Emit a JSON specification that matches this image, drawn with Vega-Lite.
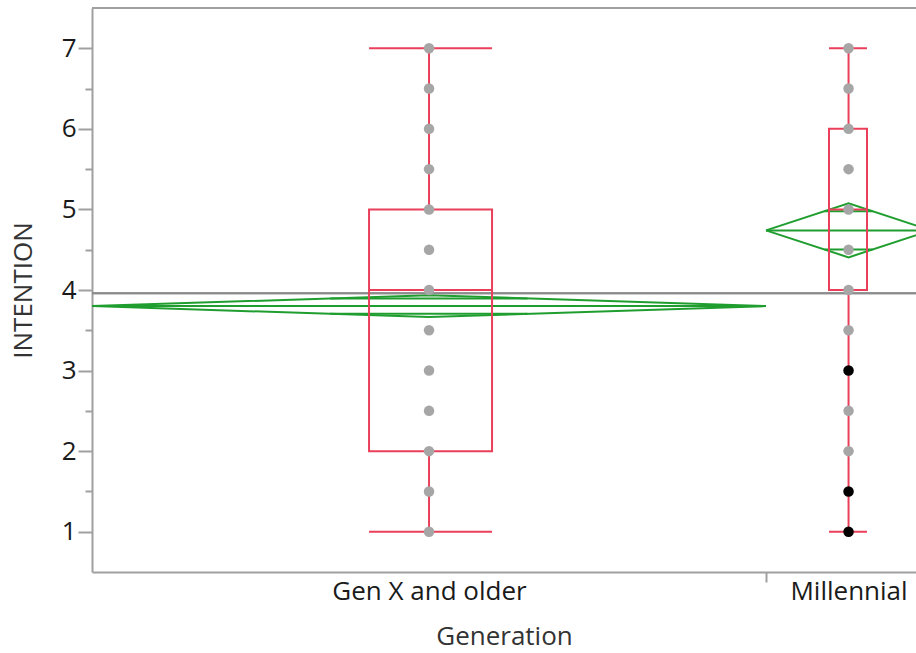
{
  "$schema": "https://vega.github.io/schema/vega-lite/v6.json",
  "width": 824,
  "height": 564,
  "autosize": {"type": "none"},
  "padding": {"left": 92, "top": 8, "right": 0, "bottom": 81},
  "background": "white",
  "config": {"view": {"stroke": null}, "font": "Open Sans"},
  "datasets": {
    "groups": [
      {"Generation": "Gen X and older", "xlo": 0, "xhi": 0.8033, "xc": 0.4017, "boxlo": 0.3302, "boxhi": 0.4768, "min": 1, "q1": 2, "median": 4, "q3": 5, "max": 7, "mean": 3.8, "ovlo": 3.705, "ovhi": 3.895, "ovxlo": 0.284, "ovxhi": 0.519},
      {"Generation": "Millennial", "xlo": 0.8033, "xhi": 1.0, "xc": 0.9017, "boxlo": 0.8784, "boxhi": 0.9237, "min": 1, "q1": 4, "median": 5, "q3": 6, "max": 7, "mean": 4.74, "ovlo": 4.503, "ovhi": 4.977, "ovxlo": 0.873, "ovxhi": 0.9305}
    ],
    "diamond": [
      {"Generation": "Gen X and older", "k": 0, "x": 0, "y": 3.8},
      {"Generation": "Gen X and older", "k": 1, "x": 0.4017, "y": 3.935},
      {"Generation": "Gen X and older", "k": 2, "x": 0.8033, "y": 3.8},
      {"Generation": "Gen X and older", "k": 3, "x": 0.4017, "y": 3.665},
      {"Generation": "Gen X and older", "k": 4, "x": 0, "y": 3.8},
      {"Generation": "Millennial", "k": 0, "x": 0.8033, "y": 4.74},
      {"Generation": "Millennial", "k": 1, "x": 0.9017, "y": 5.075},
      {"Generation": "Millennial", "k": 2, "x": 1.0, "y": 4.74},
      {"Generation": "Millennial", "k": 3, "x": 0.9017, "y": 4.405},
      {"Generation": "Millennial", "k": 4, "x": 0.8033, "y": 4.74}
    ],
    "points": [
      {"Generation": "Gen X and older", "INTENTION": 1, "state": "normal"},
      {"Generation": "Gen X and older", "INTENTION": 1.5, "state": "normal"},
      {"Generation": "Gen X and older", "INTENTION": 2, "state": "normal"},
      {"Generation": "Gen X and older", "INTENTION": 2.5, "state": "normal"},
      {"Generation": "Gen X and older", "INTENTION": 3, "state": "normal"},
      {"Generation": "Gen X and older", "INTENTION": 3.5, "state": "normal"},
      {"Generation": "Gen X and older", "INTENTION": 4, "state": "normal"},
      {"Generation": "Gen X and older", "INTENTION": 4.5, "state": "normal"},
      {"Generation": "Gen X and older", "INTENTION": 5, "state": "normal"},
      {"Generation": "Gen X and older", "INTENTION": 5.5, "state": "normal"},
      {"Generation": "Gen X and older", "INTENTION": 6, "state": "normal"},
      {"Generation": "Gen X and older", "INTENTION": 6.5, "state": "normal"},
      {"Generation": "Gen X and older", "INTENTION": 7, "state": "normal"},
      {"Generation": "Millennial", "INTENTION": 1, "state": "selected"},
      {"Generation": "Millennial", "INTENTION": 1.5, "state": "selected"},
      {"Generation": "Millennial", "INTENTION": 2, "state": "normal"},
      {"Generation": "Millennial", "INTENTION": 2.5, "state": "normal"},
      {"Generation": "Millennial", "INTENTION": 3, "state": "selected"},
      {"Generation": "Millennial", "INTENTION": 3.5, "state": "normal"},
      {"Generation": "Millennial", "INTENTION": 4, "state": "normal"},
      {"Generation": "Millennial", "INTENTION": 4.5, "state": "normal"},
      {"Generation": "Millennial", "INTENTION": 5, "state": "normal"},
      {"Generation": "Millennial", "INTENTION": 5.5, "state": "normal"},
      {"Generation": "Millennial", "INTENTION": 6, "state": "normal"},
      {"Generation": "Millennial", "INTENTION": 6.5, "state": "normal"},
      {"Generation": "Millennial", "INTENTION": 7, "state": "normal"}
    ]
  },
  "layer": [
    {
      "data": {"name": "diamond"},
      "mark": {"type": "line", "color": "#1f9e2f", "strokeWidth": 2, "clip": true},
      "encoding": {
        "x": {
          "field": "x", "type": "quantitative",
          "scale": {"domain": [0, 0.9821], "nice": false, "zero": false},
          "axis": {
            "title": "Generation",
            "values": [0.4017, 0.8033, 0.9017],
            "labelExpr": "datum.value < 0.5 ? 'Gen X and older' : (datum.value > 0.85 ? 'Millennial' : '')",
            "labelFlush": false, "labelOverlap": false, "labelBound": false, "labelLimit": 400,
            "labelFontSize": 26, "labelColor": "#1a1a1a", "labelPadding": -4,
            "grid": false,
            "domainColor": "#a0a0a0", "domainWidth": 2,
            "tickColor": "#a0a0a0", "tickWidth": 2, "tickSize": 10,
            "tickOpacity": {"condition": {"test": "datum.value > 0.7 && datum.value < 0.85", "value": 1}, "value": 0},
            "titleFontSize": 26, "titleFontWeight": "normal", "titleColor": "#333333",
            "titlePadding": 19, "titleX": 412
          }
        },
        "y": {
          "field": "y", "type": "quantitative",
          "scale": {"domain": [0.5, 7.5], "nice": false, "zero": false},
          "axis": {
            "title": "INTENTION",
            "values": [1, 1.5, 2, 2.5, 3, 3.5, 4, 4.5, 5, 5.5, 6, 6.5, 7],
            "labelExpr": "datum.value % 1 === 0 ? format(datum.value, 'd') : ''",
            "labelFontSize": 26, "labelColor": "#1a1a1a", "labelPadding": 2,
            "grid": false,
            "domainColor": "#a0a0a0", "domainWidth": 2,
            "tickColor": "#a0a0a0", "tickWidth": 2,
            "tickSize": {"condition": {"test": "datum.value % 1 === 0", "value": 14}, "value": 7},
            "titleFontSize": 26, "titleFontWeight": "normal", "titleColor": "#333333",
            "titlePadding": 25
          }
        },
        "detail": {"field": "Generation"},
        "order": {"field": "k"}
      }
    },
    {
      "data": {"name": "groups"},
      "mark": {"type": "rule", "color": "#a0a0a0", "strokeWidth": 2},
      "encoding": {
        "y": {"datum": 7.5, "type": "quantitative"}
      }
    },
    {
      "data": {"name": "groups"},
      "mark": {"type": "rule", "color": "#8c8c8c", "strokeWidth": 2},
      "encoding": {
        "y": {"datum": 3.96, "type": "quantitative"}
      }
    },
    {
      "data": {"name": "groups"},
      "mark": {"type": "rule", "color": "#1f9e2f", "strokeWidth": 2, "clip": true},
      "encoding": {
        "x": {"field": "xlo", "type": "quantitative"},
        "x2": {"field": "xhi"},
        "y": {"field": "mean", "type": "quantitative"}
      }
    },
    {
      "data": {"name": "groups"},
      "mark": {"type": "rule", "color": "#1f9e2f", "strokeWidth": 2, "clip": true},
      "encoding": {
        "x": {"field": "ovxlo", "type": "quantitative"},
        "x2": {"field": "ovxhi"},
        "y": {"field": "ovlo", "type": "quantitative"}
      }
    },
    {
      "data": {"name": "groups"},
      "mark": {"type": "rule", "color": "#1f9e2f", "strokeWidth": 2, "clip": true},
      "encoding": {
        "x": {"field": "ovxlo", "type": "quantitative"},
        "x2": {"field": "ovxhi"},
        "y": {"field": "ovhi", "type": "quantitative"}
      }
    },
    {
      "data": {"name": "groups"},
      "mark": {"type": "rect", "fill": null, "fillOpacity": 0, "stroke": "#ea3f5a", "strokeWidth": 2, "clip": true},
      "encoding": {
        "x": {"field": "boxlo", "type": "quantitative"},
        "x2": {"field": "boxhi"},
        "y": {"field": "q1", "type": "quantitative"},
        "y2": {"field": "q3"}
      }
    },
    {
      "data": {"name": "groups"},
      "mark": {"type": "rule", "color": "#ea3f5a", "strokeWidth": 2, "clip": true},
      "encoding": {
        "x": {"field": "boxlo", "type": "quantitative"},
        "x2": {"field": "boxhi"},
        "y": {"field": "median", "type": "quantitative"}
      }
    },
    {
      "data": {"name": "groups"},
      "mark": {"type": "rule", "color": "#ea3f5a", "strokeWidth": 2, "clip": true},
      "encoding": {
        "x": {"field": "boxlo", "type": "quantitative"},
        "x2": {"field": "boxhi"},
        "y": {"field": "min", "type": "quantitative"}
      }
    },
    {
      "data": {"name": "groups"},
      "mark": {"type": "rule", "color": "#ea3f5a", "strokeWidth": 2, "clip": true},
      "encoding": {
        "x": {"field": "boxlo", "type": "quantitative"},
        "x2": {"field": "boxhi"},
        "y": {"field": "max", "type": "quantitative"}
      }
    },
    {
      "data": {"name": "groups"},
      "mark": {"type": "rule", "color": "#ea3f5a", "strokeWidth": 2, "clip": true},
      "encoding": {
        "x": {"field": "xc", "type": "quantitative"},
        "y": {"field": "min", "type": "quantitative"},
        "y2": {"field": "q1"}
      }
    },
    {
      "data": {"name": "groups"},
      "mark": {"type": "rule", "color": "#ea3f5a", "strokeWidth": 2, "clip": true},
      "encoding": {
        "x": {"field": "xc", "type": "quantitative"},
        "y": {"field": "q3", "type": "quantitative"},
        "y2": {"field": "max"}
      }
    },
    {
      "data": {"name": "points"},
      "transform": [
        {"lookup": "Generation", "from": {"data": {"name": "groups"}, "key": "Generation", "fields": ["xc"]}}
      ],
      "mark": {"type": "circle", "size": 110, "opacity": 1, "clip": true},
      "encoding": {
        "x": {"field": "xc", "type": "quantitative"},
        "y": {"field": "INTENTION", "type": "quantitative"},
        "color": {"field": "state", "type": "nominal", "scale": {"domain": ["normal", "selected"], "range": ["#a6a6a6", "#000000"]}, "legend": null}
      }
    }
  ]
}
